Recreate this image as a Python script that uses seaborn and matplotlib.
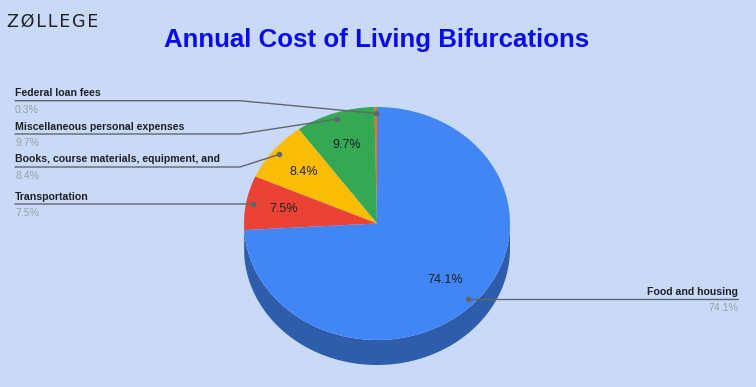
import numpy as np
import matplotlib
matplotlib.use("Agg")
import matplotlib.pyplot as plt
import seaborn as sns

# data
categories = ["Federal loan fees", "Miscellaneous personal expenses",
              "Books, course materials, equipment, and", "Transportation",
              "Food and housing"]
shares = [0.3, 9.7, 8.4, 7.5, 74.1]
colors = ["#ff6d01", "#34a853", "#fbbc04", "#ea4335", "#4285f4"]
title = "Annual Cost of Living Bifurcations"

bg = "#c9daf8"
sns.set_theme(style="white", rc={"figure.facecolor": bg, "axes.facecolor": bg})
plt.rcParams["font.family"] = ["Liberation Sans", "DejaVu Sans"]

W, H = 756, 387
fig = plt.figure(figsize=(W / 100, H / 100), dpi=100)

# ellipse geometry of the tilted pie, in pixels
cx, cy, a, b, depth = 377, 223.5, 133, 116.5, 25
d = depth / b
m = 1.1
ax = fig.add_axes([(cx - m * a) / W, (H - cy - (m + d) * b) / H,
                   2 * m * a / W, (2 * m + d) * b / H])
wedges, _, autotexts = ax.pie(
    shares, colors=colors, startangle=90, counterclock=True,
    autopct=lambda p: f"{p:.1f}%" if p >= 1 else "", pctdistance=0.71,
    wedgeprops=dict(linewidth=0), textprops=dict(fontsize=9, color="#202124"))
ax.set_aspect("auto")
ax.set_xlim(-m, m)
ax.set_ylim(-m - d, m)
ax.axis("off")

# side wall of the 3d pie
for w, c in zip(wedges, colors):
    dark = tuple(v * 0.7 for v in matplotlib.colors.to_rgb(c))
    for lo, hi in [(180, 360), (540, 720)]:
        t1, t2 = max(w.theta1, lo), min(w.theta2, hi)
        if t2 <= t1:
            continue
        t = np.radians(np.linspace(t1, t2, 200))
        xs = np.concatenate([np.cos(t), np.cos(t[::-1])])
        ys = np.concatenate([np.sin(t), np.sin(t[::-1]) - d])
        ax.fill(xs, ys, color=dark, lw=0, zorder=0)

# overlay in pixel coordinates for labels
ov = fig.add_axes([0, 0, 1, 1], zorder=5)
ov.set_xlim(0, W)
ov.set_ylim(H, 0)
ov.axis("off")
ov.patch.set_alpha(0)

to_px = lambda x, y: ov.transData.inverted().transform(ax.transData.transform((x, y)))

line_ys = [100.7, 134, 167, 204]
line_col = "#62666b"
for i, (w, cat, s) in enumerate(zip(wedges, categories, shares)):
    ang = np.radians((w.theta1 + w.theta2) / 2)
    px, py = to_px(0.945 * np.cos(ang), 0.945 * np.sin(ang))
    if i < 4:
        ly = line_ys[i]
        ov.plot([15, 240, px], [ly, ly, py], color=line_col, lw=1)
        ov.text(15, ly - 4.5, cat, fontsize=7.6, fontweight="bold",
                color="#202124", ha="left", va="baseline")
        ov.text(15, ly + 4, f"{s}%", fontsize=7.6, color="#9aa0a6",
                ha="left", va="top")
    else:
        ly = py
        ov.plot([px, 738], [ly, ly], color=line_col, lw=1)
        ov.text(738, ly - 4.5, cat, fontsize=7.6, fontweight="bold",
                color="#202124", ha="right", va="baseline")
        ov.text(738, ly + 4, f"{s}%", fontsize=7.6, color="#9aa0a6",
                ha="right", va="top")
    ov.plot(px, py, "o", ms=3, color=line_col)

ov.text(377, 47, title, fontsize=18.6, fontweight="bold", color="#0a0af0",
        ha="center", va="baseline",
        family=["Liberation Sans Narrow", "Liberation Sans", "DejaVu Sans"])
ov.text(7, 27, "\u200a".join("ZØLLEGE"), fontsize=12.6, color="#222222",
        ha="left", va="baseline", family=["DejaVu Sans"])

fig.savefig("out.png", dpi=100)
